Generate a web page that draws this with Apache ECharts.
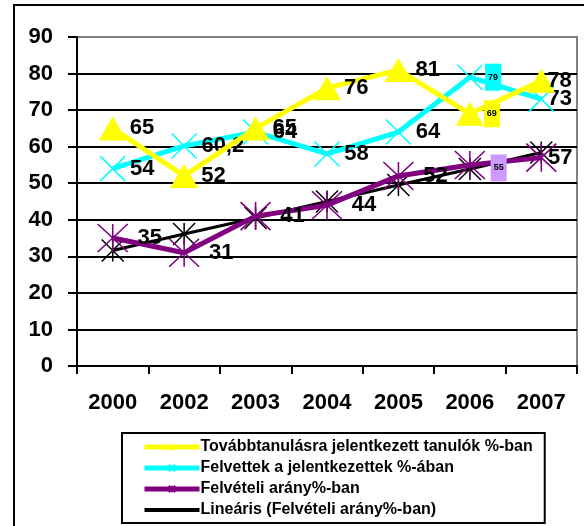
<!DOCTYPE html>
<html>
<head>
<meta charset="utf-8">
<script src="https://cdn.jsdelivr.net/npm/echarts@6/dist/echarts.min.js"></script>
<style>
  html, body { margin: 0; padding: 0; background: #fff; }
  #chart { width: 584px; height: 526px; }
</style>
</head>
<body>
<div id="chart"></div>
<script>
// adatok
const years = ['2000', '2002', '2003', '2004', '2005', '2006', '2007'];
const jelentkezett = [65, 52, 65, 76, 81, 69, 78];
const felvettek = [54, 60.2, 64, 58, 64, 79, 73];
const felveteliArany = [35, 31, 41, 44, 52, 55, 57];
const linearis = [31.6, 36.1, 40.5, 45.0, 49.5, 53.9, 58.4];

const seriesNames = [
  'Továbbtanulásra jelentkezett tanulók %-ban',
  'Felvettek a jelentkezettek %-ában',
  'Felvételi arány%-ban',
  'Lineáris (Felvételi arány%-ban)'
];

var chartDom = document.getElementById('chart');
var myChart = echarts.init(chartDom);
var option;

const FONT = 'Liberation Sans, Arial, sans-serif';
const crossPath = 'path://M0 0L10 10M10 0L0 10';
const starPath = 'path://M0 0L10 10M10 0L0 10M5 0L5 10';

function fmt(p) {
  return String(p.value).replace('.', ',');
}

// a 2006-os címkék kis dobozban vannak, a 2007-esek közelebb a ponthoz
function buildData(values, boxColor, boxDist, boxDy, lastDx) {
  return values.map(function (v, i) {
    if (i === 5) {
      return {
        value: v,
        label: {
          distance: boxDist,
          offset: [0, boxDy],
          fontSize: 9,
          backgroundColor: boxColor,
          padding: [9, 3, 9, 3]
        }
      };
    }
    if (i === 6) {
      return { value: v, label: { offset: [lastDx, 0] } };
    }
    return v;
  });
}

const bigLabel = {
  show: true,
  position: 'right',
  color: '#000',
  fontFamily: FONT,
  fontWeight: 'bold',
  fontSize: 22,
  formatter: fmt
};

option = {
  animation: false,
  backgroundColor: '#fff',
  graphic: [
    {
      type: 'rect',
      z: -10,
      shape: { x: 14, y: 5, width: 620, height: 600 },
      style: { fill: 'none', stroke: '#000', lineWidth: 2 }
    }
  ],
  grid: {
    left: 77,
    top: 37,
    right: 7,
    bottom: 160,
    show: true,
    borderColor: '#808080',
    borderWidth: 2
  },
  legend: {
    orient: 'vertical',
    left: 122,
    top: 433,
    padding: [6, 12, 5, 20],
    itemGap: 5,
    itemWidth: 55,
    itemHeight: 8,
    borderColor: '#000',
    borderWidth: 2,
    backgroundColor: '#fff',
    lineStyle: { width: 5 },
    textStyle: {
      color: '#000',
      fontFamily: FONT,
      fontWeight: 'bold',
      fontSize: 16,
      padding: [0, 0, 0, -4]
    },
    data: [
      { name: seriesNames[0] },
      { name: seriesNames[1] },
      { name: seriesNames[2] },
      { name: seriesNames[3], itemStyle: { opacity: 0 }, lineStyle: { width: 4, color: '#000' } }
    ]
  },
  xAxis: {
    type: 'category',
    data: years,
    boundaryGap: true,
    axisLine: { lineStyle: { color: '#000', width: 2 } },
    axisTick: { show: true, length: 8, lineStyle: { color: '#000', width: 2 } },
    axisLabel: {
      color: '#000',
      fontFamily: FONT,
      fontWeight: 'bold',
      fontSize: 22,
      margin: 26
    },
    splitLine: { show: false }
  },
  yAxis: {
    type: 'value',
    min: 0,
    max: 90,
    interval: 10,
    axisLine: { show: true, lineStyle: { color: '#000', width: 2 } },
    axisTick: { show: true, length: 9, lineStyle: { color: '#000', width: 2 } },
    axisLabel: {
      color: '#000',
      fontFamily: FONT,
      fontWeight: 'bold',
      fontSize: 22,
      margin: 24
    },
    splitLine: {
      show: true,
      showMaxLine: false,
      lineStyle: { color: '#000', width: 2 }
    }
  },
  series: [
    {
      name: seriesNames[3],
      type: 'line',
      z: 2,
      data: linearis,
      symbol: starPath,
      symbolSize: 22,
      lineStyle: { color: '#000', width: 3 },
      itemStyle: { color: '#000', borderColor: '#000', borderWidth: 1.5 },
      label: { show: false }
    },
    {
      name: seriesNames[2],
      type: 'line',
      z: 3,
      data: buildData(felveteliArany, '#CC99FF', 5, 3, -18),
      symbol: starPath,
      symbolSize: [30, 28],
      lineStyle: { color: '#800080', width: 5 },
      itemStyle: { color: '#800080', borderColor: '#800080', borderWidth: 1.5 },
      label: Object.assign({}, bigLabel, { distance: 9 })
    },
    {
      name: seriesNames[1],
      type: 'line',
      z: 4,
      data: buildData(felvettek, '#00FFFF', 2, 0, -11),
      symbol: crossPath,
      symbolSize: 25,
      lineStyle: { color: '#00FFFF', width: 5 },
      itemStyle: { color: '#00FFFF', borderColor: '#00FFFF', borderWidth: 1.5 },
      label: Object.assign({}, bigLabel, { distance: 4 })
    },
    {
      name: seriesNames[0],
      type: 'line',
      z: 5,
      data: buildData(jelentkezett, '#FFFF00', 0, 0, -11),
      symbol: 'triangle',
      symbolSize: [28, 24],
      lineStyle: { color: '#FFFF00', width: 5 },
      itemStyle: { color: '#FFFF00', borderWidth: 0 },
      label: Object.assign({}, bigLabel, { distance: 3 })
    }
  ]
};

option && myChart.setOption(option);
</script>
</body>
</html>
